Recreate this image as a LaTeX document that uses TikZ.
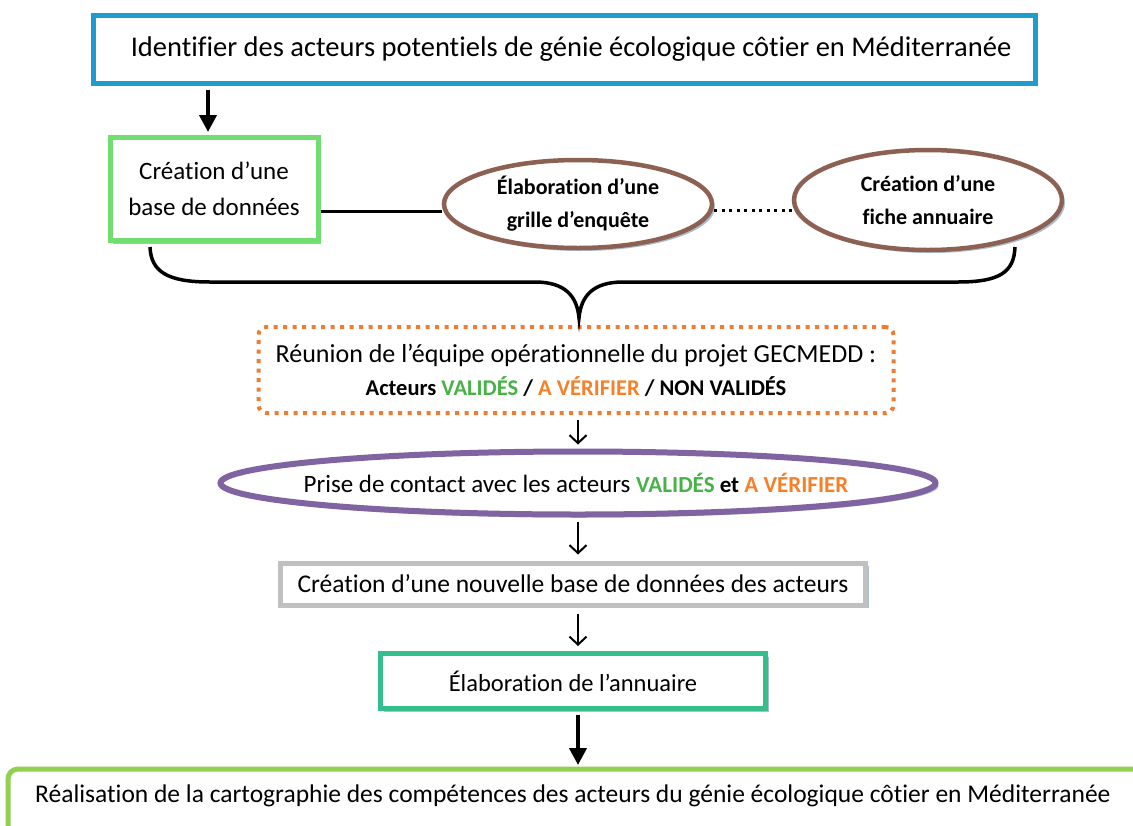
\documentclass[tikz,border=0pt]{standalone}
\usepackage{fontspec}
\setmainfont[RawFeature={-liga}]{Carlito}
\usetikzlibrary{shapes.geometric,shadows,arrows.meta}
\definecolor{cblue}{RGB}{32,155,205}
\definecolor{cgreenbox}{RGB}{112,222,112}
\definecolor{cbrown}{RGB}{140,96,82}
\definecolor{corange}{RGB}{237,125,49}
\definecolor{cpurple}{RGB}{128,100,162}
\definecolor{cgray}{RGB}{192,192,192}
\definecolor{cteal}{RGB}{52,190,140}
\definecolor{cbottom}{RGB}{146,208,80}
\definecolor{cshadow}{RGB}{172,190,205}
\definecolor{tgreen}{RGB}{72,178,72}
\definecolor{torange}{RGB}{245,128,40}
\tikzset{
  shd/.style={drop shadow={shadow xshift=3pt,shadow yshift=-3pt,fill=cshadow,opacity=1}},
  boxstyle/.style={rectangle,fill=white,line width=5pt,inner sep=0pt,align=center,shd},
  ellstyle/.style={ellipse,fill=white,draw=cbrown,line width=4.5pt,inner sep=0pt,align=center,shd,
    font=\fontsize{22}{33}\selectfont\bfseries},
  thickarrow/.style={line width=4pt,-{Triangle[length=17pt,width=17pt]}},
  thinarrow/.style={line width=2pt,-{Straight Barb[length=8pt,width=17pt,line width=2pt]}},
  connline/.style={line width=3pt},
}
\begin{document}
\begin{tikzpicture}[x=1pt,y=-1pt]
\useasboundingbox (0,0) rectangle (1133,825);
\clip (0,0) rectangle (1133,825);
\fill[white] (0,0) rectangle (1133,825);

% main boxes
\node[boxstyle,draw=cblue,minimum width=942pt,minimum height=68pt] (top) at (564,49) {};
\node[font=\fontsize{28.5}{32}\selectfont,inner sep=0pt] (toptext) at (571,49)
  {Identifier des acteurs potentiels de génie écologique côtier en Méditerranée};
\node[boxstyle,draw=cgreenbox,minimum width=208pt,minimum height=103pt,font=\fontsize{25}{36}\selectfont] (base) at (214,189)
  {Création d’une\\base de données};
\node[ellstyle,minimum width=268pt,minimum height=88pt] (grille) at (578,204)
  {Élaboration d’une\\grille d’enquête};
\node[ellstyle,minimum width=268pt,minimum height=100pt] (fiche) at (928,200)
  {Création d’une\\fiche annuaire};
\node[rectangle,rounded corners=8pt,fill=white,draw=corange,line width=4pt,dash pattern=on 4pt off 5.5pt,
  minimum width=635pt,minimum height=86pt,inner sep=0pt,align=center,font=\fontsize{26}{33}\selectfont] (reunion) at (576,370)
  {Réunion de l’équipe opérationnelle du projet GECMEDD :\\
   {\fontsize{22.5}{33}\selectfont\bfseries Acteurs \textcolor{tgreen}{VALIDÉS} / \textcolor{torange}{A VÉRIFIER} / NON VALIDÉS}};
\node[ellipse,fill=white,draw=cpurple,line width=6pt,minimum width=715pt,minimum height=63pt,inner sep=0pt,shd] (contact) at (578,483) {};
\node[inner sep=0pt,font=\fontsize{25}{28}\selectfont] (contacttext) at (576,483)
  {Prise de contact avec les acteurs {\bfseries\fontsize{23}{28}\selectfont\textcolor{tgreen}{VALIDÉS} et \textcolor{torange}{A VÉRIFIER}}};
\node[boxstyle,draw=cgray,minimum width=585pt,minimum height=42pt,font=\fontsize{25.5}{28}\selectfont] (nouvelle) at (573,584)
  {Création d’une nouvelle base de données des acteurs};
\node[boxstyle,draw=cteal,minimum width=385pt,minimum height=55pt,font=\fontsize{24.5}{28}\selectfont] (annuaire) at (573,681)
  {Élaboration de l’annuaire};
% bottom box
\draw[fill=white,draw=cbottom,line width=5pt,rounded corners=10pt,shd] (8,860) -- (8,769) -- (1160,769) -- (1160,860);
\node[anchor=west,inner sep=0pt,font=\fontsize{25.5}{28}\selectfont] (carto) at (35,796)
  {Réalisation de la cartographie des compétences des acteurs du génie écologique côtier en Méditerranée};
\coordinate (cartotop) at (578,767);

% connectors
\coordinate (ax1) at (208,0);
\coordinate (ax) at (578,0);
\coordinate (lnA) at (0,211);
\coordinate (lnB) at (0,210);
\draw[thickarrow,shorten <=4pt,shorten >=3pt] (top.south -| ax1) -- (base.north -| ax1);
\draw[connline] (base.east |- lnA) -- (grille.west |- lnA);
\draw[line width=3pt,dash pattern=on 3pt off 4.5pt] (grille.east |- lnB) -- (fiche.west |- lnB);

% brace
\coordinate (bL) at (150,247);
\coordinate (bR) at (1015,247);
\coordinate (bT) at (579,318);
\draw[line width=3.5pt]
  (bL) .. controls (151,272) and (168,282) .. (210,282) -- (535,282)
  .. controls (565,282) and (577,296) .. (bT)
  .. controls (581,296) and (593,282) .. (623,282) -- (958,282)
  .. controls (1000,282) and (1014,272) .. (bR);

\draw[thinarrow,shorten <=5pt,shorten >=4pt] (reunion.south -| ax) -- (contact.north -| ax);
\draw[thinarrow,shorten <=4pt,shorten >=6pt] (contact.south -| ax) -- (nouvelle.north -| ax);
\draw[thinarrow,shorten <=6pt,shorten >=5pt] (nouvelle.south -| ax) -- (annuaire.north -| ax);
\draw[thickarrow,shorten <=4pt,shorten >=2pt] (annuaire.south -| ax) -- (cartotop);
\end{tikzpicture}
\end{document}
